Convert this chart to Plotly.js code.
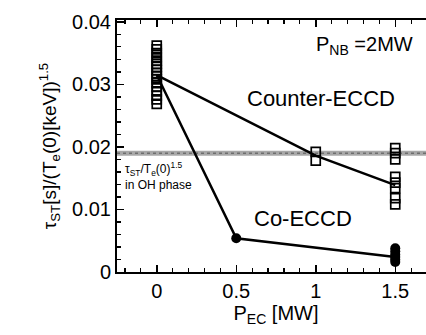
<!DOCTYPE html>
<html>
<head>
<meta charset="utf-8">
<script src="https://cdn.plot.ly/plotly-3.0.1.min.js"></script>
<style>html,body{margin:0;padding:0;background:#fff;overflow:hidden;}#chart{width:436px;height:335px;}</style>
</head>
<body>
<div id="chart"></div>
<script>
// Counter-ECCD data points (open squares)
const counterX0 = [0,0,0,0,0,0,0,0,0,0,0,0,0,0,0,0,0];
const counterY0 = [0.0362,0.0356,0.0350,0.0344,0.0338,0.0333,0.0328,0.0323,0.0318,0.0313,0.0308,0.0302,0.0296,0.0289,0.0282,0.0276,0.0269];
const counterX1 = [1,1];
const counterY1 = [0.0192,0.0178];
const counterX15 = [1.5,1.5,1.5,1.5,1.5,1.5,1.5,1.5];
const counterY15 = [0.0198,0.0190,0.0180,0.0152,0.0143,0.0134,0.0118,0.0108];
// Co-ECCD data points (filled circles)
const coX = [0.5,1.5,1.5,1.5,1.5,1.5,1.5];
const coY = [0.0054,0.0038,0.0033,0.0028,0.0024,0.0020,0.0016];
// trend lines
const counterLineX = [0,1,1.5];
const counterLineY = [0.0315,0.0186,0.0139];
const coLineX = [0,0.5,1.5];
const coLineY = [0.0315,0.0054,0.0024];
// OH phase reference level
const ohLevel = 0.019;

const FONT = 'Liberation Sans, Arial, Helvetica, sans-serif';

const traces = [
  {x: counterLineX, y: counterLineY, mode: 'lines', line: {color: '#000', width: 2.5}, hoverinfo: 'skip'},
  {x: coLineX, y: coLineY, mode: 'lines', line: {color: '#000', width: 2.5}, hoverinfo: 'skip'},
  {x: counterX0.concat(counterX1, counterX15), y: counterY0.concat(counterY1, counterY15), mode: 'markers',
   marker: {symbol: 'square-open', size: 9, color: '#000', line: {width: 1.7, color: '#000'}}},
  {x: coX, y: coY, mode: 'markers', marker: {symbol: 'circle', size: 10, color: '#000'}}
];

const layout = {
  width: 436, height: 335,
  margin: {l: 117, r: 1, t: 20, b: 63},
  paper_bgcolor: '#fff', plot_bgcolor: '#fff',
  showlegend: false,
  font: {family: FONT, color: '#000', size: 20},
  xaxis: {
    range: [-0.25, 1.75], tickvals: [0, 0.5, 1, 1.5], ticktext: ['0', '0.5', '1', '1.5'],
    ticks: 'inside', ticklen: 7, tickwidth: 1.5, tickcolor: '#000',
    minor: {dtick: 0.1, ticks: 'inside', ticklen: 4, tickwidth: 1.2, tickcolor: '#000'},
    showline: true, linecolor: '#000', linewidth: 2, mirror: 'ticks',
    showgrid: false, zeroline: false,
    tickfont: {family: FONT, size: 20, color: '#000'},
    title: {text: 'P<sub>EC</sub> [MW]', font: {family: FONT, size: 20, color: '#000'}, standoff: 4}
  },
  yaxis: {
    range: [0, 0.0403], tickvals: [0, 0.01, 0.02, 0.03, 0.04], ticktext: ['0', '0.01', '0.02', '0.03', '0.04'],
    ticks: 'inside', ticklen: 7, tickwidth: 1.5, tickcolor: '#000',
    minor: {dtick: 0.002, ticks: 'inside', ticklen: 4, tickwidth: 1.2, tickcolor: '#000'},
    showline: true, linecolor: '#000', linewidth: 2, mirror: 'ticks',
    showgrid: false, zeroline: false,
    tickfont: {family: FONT, size: 20, color: '#000'},
    title: {text: 'τ<sub>ST</sub>[s]/(T<sub>e</sub>(0)[keV])<sup>1.5</sup>', font: {family: FONT, size: 19, color: '#000'}, standoff: 10}
  },
  shapes: [
    {type: 'line', xref: 'paper', x0: 0, x1: 1, yref: 'y', y0: ohLevel, y1: ohLevel,
     line: {color: '#a8a8a8', width: 5}, layer: 'below'},
    {type: 'line', xref: 'paper', x0: 0, x1: 1, yref: 'y', y0: ohLevel, y1: ohLevel,
     line: {color: '#6e6e6e', width: 1.5, dash: 'dot'}, layer: 'below'}
  ],
  annotations: [
    {x: 1.305, y: 0.0363, xref: 'x', yref: 'y', text: 'P<sub>NB</sub> =2MW', showarrow: false,
     font: {family: FONT, size: 20, color: '#000'}},
    {x: 1.03, y: 0.0278, xref: 'x', yref: 'y', text: 'Counter-ECCD', showarrow: false,
     font: {family: FONT, size: 22, color: '#000'}},
    {x: 0.92, y: 0.0085, xref: 'x', yref: 'y', text: 'Co-ECCD', showarrow: false,
     font: {family: FONT, size: 22, color: '#000'}},
    {x: -0.215, y: 0.0154, xref: 'x', yref: 'y', xanchor: 'left', align: 'left',
     text: 'τ<sub>ST</sub>/T<sub>e</sub>(0)<sup>1.5</sup><br>in OH phase', showarrow: false,
     font: {family: FONT, size: 12, color: '#000'}}
  ]
};

Plotly.newPlot('chart', traces, layout, {displayModeBar: false, staticPlot: true});
</script>
</body>
</html>
